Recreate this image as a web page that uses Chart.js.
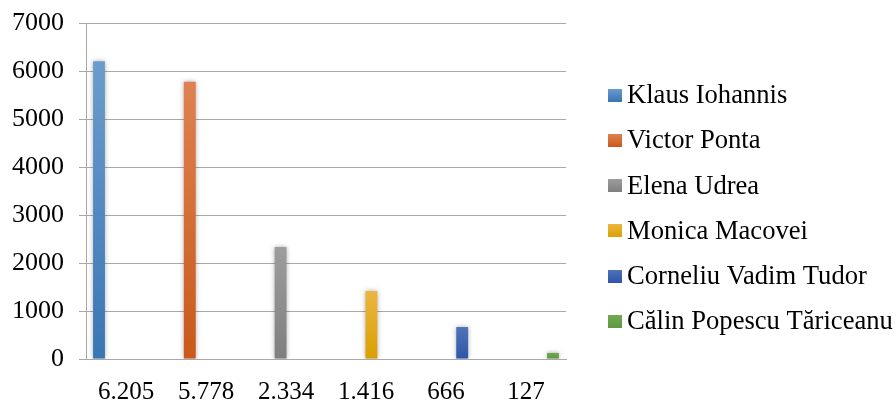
<!DOCTYPE html>
<html>
<head>
<meta charset="utf-8">
<title>Voturi</title>
<script src="https://cdn.jsdelivr.net/npm/chart.js@4/dist/chart.umd.min.js"></script>
<style>
  html, body { margin: 0; padding: 0; background: #ffffff; }
  #wrap { position: relative; width: 896px; height: 402px; }
</style>
</head>
<body>
<div id="wrap"><canvas id="chart" width="896" height="402"></canvas></div>
<script>
// Candidates and their vote counts
const candidates = [
  'Klaus Iohannis',
  'Victor Ponta',
  'Elena Udrea',
  'Monica Macovei',
  'Corneliu Vadim Tudor',
  'Călin Popescu Tăriceanu'
];
const votes = [6205, 5778, 2334, 1416, 666, 127];
const categoryLabels = ['6.205', '5.778', '2.334', '1.416', '666', '127'];
const yTicks = [0, 1000, 2000, 3000, 4000, 5000, 6000, 7000];

// Bar fill: lighter shade at the top, deeper shade at the bottom
const colorTop    = ['#6c9ccd', '#df8151', '#9d9d9d', '#ecb542', '#5072b9', '#72a951'];
const colorBottom = ['#3a76b4', '#c85a1a', '#7f7f7f', '#d9a000', '#2e55a7', '#5d9840'];

const FONT = "'Times New Roman', 'Liberation Serif', serif";
const GRID = '#a8a8a8';

// One dataset per candidate, holding its own category only
const datasets = candidates.map((name, i) => ({
  label: name,
  data: categoryLabels.map((_, j) => (j === i ? votes[i] : null)),
  backgroundColor: (ctx) => {
    const chart = ctx.chart;
    const y = chart.scales && chart.scales.y;
    if (!y || ctx.raw == null) return colorBottom[i];
    const top = y.getPixelForValue(ctx.raw);
    const bottom = y.getPixelForValue(0);
    if (!isFinite(top) || !isFinite(bottom) || bottom - top < 1) return colorBottom[i];
    const g = chart.ctx.createLinearGradient(0, top, 0, bottom);
    g.addColorStop(0, colorTop[i]);
    g.addColorStop(1, colorBottom[i]);
    return g;
  },
  borderWidth: 0,
  barPercentage: 1.1,
  categoryPercentage: 0.81
}));

// Soft shadow around the bars
const barShadow = {
  id: 'barShadow',
  beforeDatasetDraw(chart) {
    const c = chart.ctx;
    c.save();
    c.shadowColor = 'rgba(0,0,0,0.32)';
    c.shadowBlur = 5;
    c.shadowOffsetX = 0;
    c.shadowOffsetY = 0;
  },
  afterDatasetDraw(chart) {
    chart.ctx.restore();
  }
};

// Legend list on the right side
const sideLegend = {
  id: 'sideLegend',
  afterDraw(chart) {
    const c = chart.ctx;
    const boxX = 608, boxW = 14, boxH = 13;
    const textX = 627;
    const firstY = 95, step = 45.3;
    c.save();
    c.font = '26.6px ' + FONT;
    c.textBaseline = 'middle';
    c.textAlign = 'left';
    chart.data.datasets.forEach((ds, i) => {
      const cy = firstY + step * i;
      const g = c.createLinearGradient(0, cy - boxH / 2, 0, cy + boxH / 2);
      g.addColorStop(0, colorTop[i]);
      g.addColorStop(1, colorBottom[i]);
      c.fillStyle = g;
      c.fillRect(boxX, Math.round(cy - boxH / 2), boxW, boxH);
      c.fillStyle = '#000000';
      c.fillText(ds.label, textX, cy + 1);
    });
    c.restore();
  }
};

new Chart(document.getElementById('chart'), {
  type: 'bar',
  data: { labels: categoryLabels, datasets },
  options: {
    responsive: false,
    animation: false,
    devicePixelRatio: 1,
    layout: { padding: { left: 0, right: 330, top: 23, bottom: 0 } },
    plugins: {
      legend: { display: false },
      tooltip: { enabled: false }
    },
    scales: {
      x: {
        grid: { display: false, drawTicks: false },
        border: { display: true, color: GRID, width: 1 },
        ticks: {
          color: '#000000',
          font: { family: FONT, size: 25 },
          padding: 18,
          maxRotation: 0,
          autoSkip: false
        },
        afterFit(scale) {
          scale.height = 43;
          scale.paddingLeft = 0;
          scale.paddingRight = 0;
        }
      },
      y: {
        min: 0,
        max: 7000,
        afterBuildTicks(scale) { scale.ticks = yTicks.map(v => ({ value: v })); },
        grid: { color: GRID, lineWidth: 1, drawTicks: true, tickLength: 7 },
        border: { display: true, color: GRID, width: 1 },
        ticks: {
          color: '#000000',
          font: { family: FONT, size: 26 },
          padding: 15,
          callback: (v) => String(v)
        },
        afterFit(scale) {
          scale.width = 86;
          scale.paddingTop = 0;
          scale.paddingBottom = 0;
        }
      }
    }
  },
  plugins: [barShadow, sideLegend]
});
</script>
</body>
</html>
